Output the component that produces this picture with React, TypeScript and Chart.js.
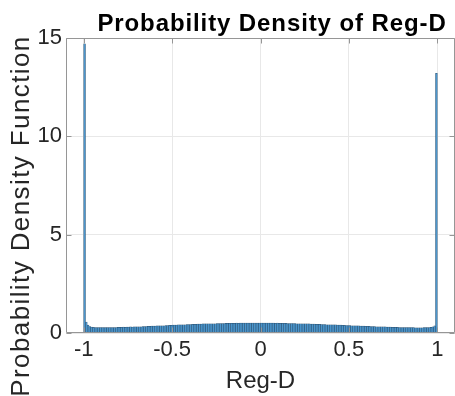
import React, { useEffect, useRef } from "react";
import { Chart, registerables } from "chart.js";

Chart.register(...registerables);

const binStart = -1;
const binWidth = 0.01;

const densityValues = [
  14.7, 0.55, 0.4, 0.33, 0.3, 0.29, 0.28, 0.28, 0.27, 0.27,
  0.27, 0.27, 0.27, 0.28, 0.27, 0.28, 0.28, 0.28, 0.28, 0.29,
  0.29, 0.29, 0.3, 0.29, 0.3, 0.3, 0.31, 0.3, 0.31, 0.31,
  0.32, 0.32, 0.32, 0.33, 0.33, 0.33, 0.34, 0.34, 0.35, 0.35,
  0.35, 0.36, 0.36, 0.37, 0.37, 0.37, 0.38, 0.38, 0.39, 0.39,
  0.4, 0.4, 0.4, 0.41, 0.41, 0.42, 0.42, 0.42, 0.43, 0.43,
  0.43, 0.44, 0.44, 0.44, 0.45, 0.45, 0.45, 0.46, 0.46, 0.46,
  0.46, 0.47, 0.47, 0.47, 0.47, 0.48, 0.48, 0.48, 0.48, 0.48,
  0.49, 0.49, 0.49, 0.49, 0.49, 0.49, 0.5, 0.49, 0.5, 0.5,
  0.5, 0.5, 0.5, 0.5, 0.5, 0.5, 0.51, 0.5, 0.5, 0.5,
  0.5, 0.5, 0.51, 0.5, 0.5, 0.5, 0.5, 0.5, 0.49, 0.5,
  0.49, 0.49, 0.49, 0.49, 0.49, 0.48, 0.48, 0.48, 0.48, 0.48,
  0.47, 0.47, 0.47, 0.47, 0.46, 0.46, 0.46, 0.46, 0.45, 0.45,
  0.45, 0.44, 0.44, 0.44, 0.43, 0.43, 0.43, 0.42, 0.42, 0.42,
  0.41, 0.41, 0.41, 0.4, 0.4, 0.4, 0.39, 0.39, 0.38, 0.38,
  0.38, 0.37, 0.37, 0.37, 0.36, 0.36, 0.35, 0.35, 0.35, 0.34,
  0.34, 0.34, 0.33, 0.33, 0.33, 0.32, 0.32, 0.32, 0.31, 0.31,
  0.31, 0.3, 0.3, 0.3, 0.29, 0.29, 0.29, 0.29, 0.28, 0.28,
  0.28, 0.28, 0.27, 0.27, 0.27, 0.27, 0.27, 0.26, 0.26, 0.26,
  0.26, 0.26, 0.27, 0.27, 0.27, 0.28, 0.29, 0.31, 0.36, 13.2,
];

const xTicks = [-1, -0.5, 0, 0.5, 1];
const yTicks = [0, 5, 10, 15];
const xRange = [-1.1, 1.1];
const yRange = [0, 15];
const titleText = "Probability Density of Reg-D";
const xLabel = "Reg-D";
const yLabel = "Probability Density Function";

const FONT = "'Liberation Sans', Arial, Helvetica, sans-serif";
const TEXT_COLOR = "rgb(38,38,38)";
const AXIS_COLOR = "rgb(150,150,150)";
const GRID_COLOR = "rgb(232,232,232)";

const boxPlugin = {
  id: "matlabBox",
  afterDraw(chart: any) {
    const { ctx, chartArea: a, scales } = chart;
    ctx.save();
    ctx.strokeStyle = AXIS_COLOR;
    ctx.lineWidth = 1;
    const L = Math.round(a.left) + 0.5;
    const R = Math.round(a.right) - 0.5;
    const T = Math.round(a.top) + 0.5;
    const B = Math.round(a.bottom) - 0.5;
    ctx.beginPath();
    ctx.rect(L, T, R - L, B - T);
    const tl = 5;
    xTicks.forEach((v) => {
      const px = Math.round(scales.x.getPixelForValue(v)) + 0.5;
      ctx.moveTo(px, B);
      ctx.lineTo(px, B - tl);
      ctx.moveTo(px, T);
      ctx.lineTo(px, T + tl);
    });
    yTicks.forEach((v) => {
      const py = Math.round(scales.y.getPixelForValue(v)) + 0.5;
      ctx.moveTo(L, py);
      ctx.lineTo(L + tl, py);
      ctx.moveTo(R, py);
      ctx.lineTo(R - tl, py);
    });
    ctx.stroke();

    // chart title
    ctx.fillStyle = "#000";
    ctx.font = `bold 24px ${FONT}`;
    (ctx as any).letterSpacing = "0.9px";
    ctx.textAlign = "center";
    ctx.textBaseline = "alphabetic";
    ctx.fillText(titleText, 272, 30.5);

    // y-axis title
    ctx.fillStyle = TEXT_COLOR;
    ctx.font = `26px ${FONT}`;
    (ctx as any).letterSpacing = "1.4px";
    ctx.translate(28.5, 216);
    ctx.rotate(-Math.PI / 2);
    ctx.fillText(yLabel, 0, 0);
    ctx.restore();
  },
};

export default function App() {
  const ref = useRef<HTMLCanvasElement | null>(null);

  useEffect(() => {
    if (!ref.current) return;
    const points = densityValues.map((y, i) => ({
      x: binStart + binWidth * (i + 0.5),
      y,
    }));
    const chart = new Chart(ref.current, {
      type: "bar",
      data: {
        datasets: [
          {
            data: points as any,
            backgroundColor: "rgb(75,150,205)",
            borderColor: "rgb(40,75,105)",
            borderWidth: 0.5,
            barPercentage: 1,
            categoryPercentage: 1,
          },
        ],
      },
      options: {
        animation: false,
        responsive: false,
        maintainAspectRatio: false,
        layout: { padding: { left: 0, right: 0, top: 38, bottom: 0 } },
        plugins: {
          legend: { display: false },
          tooltip: { enabled: false },
          title: { display: false },
        },
        scales: {
          x: {
            type: "linear",
            offset: false,
            min: xRange[0],
            max: xRange[1],
            afterBuildTicks: (s: any) => {
              s.ticks = xTicks.map((v) => ({ value: v }));
            },
            afterFit: (s: any) => {
              s.height = 63;
            },
            ticks: {
              color: TEXT_COLOR,
              font: { family: FONT, size: 22 },
              padding: 4,
              maxRotation: 0,
              autoSkip: false,
              callback: (v: any) => String(v),
            },
            grid: { color: GRID_COLOR, drawTicks: false, offset: false },
            border: { display: false },
            title: {
              display: true,
              text: xLabel,
              color: TEXT_COLOR,
              font: { family: FONT, size: 24 },
              padding: { top: 0, bottom: 0 },
            },
          },
          y: {
            type: "linear",
            min: yRange[0],
            max: yRange[1],
            afterBuildTicks: (s: any) => {
              s.ticks = yTicks.map((v) => ({ value: v }));
            },
            afterFit: (s: any) => {
              s.width = 66;
            },
            ticks: {
              color: TEXT_COLOR,
              font: { family: FONT, size: 22 },
              padding: 4,
              callback: (v: any) => String(v),
            },
            grid: { color: GRID_COLOR, drawTicks: false },
            border: { display: false },
            title: { display: false },
          },
        },
      },
      plugins: [boxPlugin],
    });
    return () => chart.destroy();
  }, []);

  return (
    <div style={{ position: "absolute", left: 0, top: 0, width: 455, height: 396 }}>
      <canvas ref={ref} width={455} height={396} style={{ display: "block" }} />
    </div>
  );
}
